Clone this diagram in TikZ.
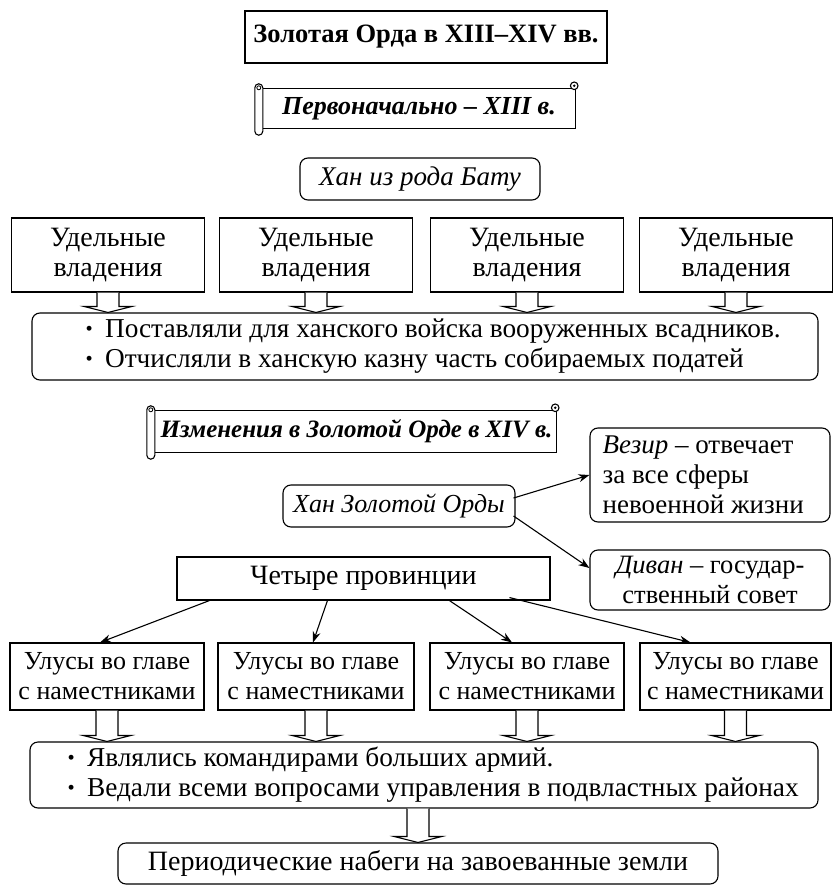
\documentclass[tikz,border=0pt]{standalone}
\usepackage{fontspec}
\setmainfont{Liberation Serif}
\usetikzlibrary{arrows.meta,calc}
\newcommand\hollowarr[2]{%
  \coordinate (tmpa) at (#1);
  \coordinate (tmpb) at (#2);
  \draw[hollow] ($(tmpa)+(-11,0)$) -- ($(tmpb)+(-11,-6)$) -- ($(tmpb)+(-24,-6)$) -- (tmpb)
     -- ($(tmpb)+(24,-6)$) -- ($(tmpb)+(11,-6)$) -- ($(tmpa)+(11,0)$);
}
\newcommand\scrollshape[1]{%
  \draw[scrl] ($(#1.north west)+(8,0)$) -- (#1.north east) -- (#1.south east) -- ($(#1.south west)+(8,0)$);
  \draw[scrl, rounded corners=4pt, fill=white] ($(#1.north west)+(0,-5)$) rectangle ($(#1.south west)+(8,7)$);
  \draw[line width=0.8pt] ($(#1.north west)+(4,-1)$) circle (2pt);
  \draw[scrl, fill=white] ($(#1.north east)+(-1,-3)$) circle (3.8pt);
  \fill ($(#1.north east)+(-1,-3)$) circle (1.4pt);
}
\newcommand\blt{\raisebox{0.08em}{\scalebox{0.75}{•}}\hspace{0.45em}}
\newcommand\fs[1]{\fontsize{#1}{30}\selectfont}
\begin{document}
\begin{tikzpicture}[x=1pt,y=-1pt,
  every node/.style={font=\fs{27}, inner sep=0pt, align=center},
  sqbox/.style={draw, line width=1.1pt},
  rbox/.style={draw, line width=1.1pt, rounded corners=8pt},
  conn/.style={line width=1.1pt, -{Stealth[length=11pt,width=8pt]}},
  hollow/.style={line width=1.1pt, fill=white, line join=miter},
  scrl/.style={line width=1.1pt},
]
\useasboundingbox (0,0) rectangle (833,885);
\fill[white] (0,0) rectangle (833,885);

% title
\node[sqbox, minimum width=362, minimum height=52, font=\fs{26.5}\bfseries] (title) at (426,37) {Золотая Орда в XIII–XIV вв.};

% scroll 1
\node[minimum width=320, minimum height=39, font=\fs{26}\bfseries\itshape] (s1) at (415,108.5) {\hspace{8pt}Первоначально – XIII в.};
\scrollshape{s1}

\node[rbox, minimum width=240, minimum height=42, font=\fs{27}\itshape] (khanb) at (420,179) {Хан из рода Бату};

% udelnye
\foreach \i/\x in {1/108,2/316,3/527,4/736}{
  \node[sqbox, minimum width=193, minimum height=74, font=\fs{28}] (d\i) at (\x,255) {Удельные\\владения};
}
\node[rbox, minimum width=786, minimum height=67] (r1) at (425,346.5) {};
\node[anchor=west, align=left, font=\fs{27.3}] (r1t) at ($(r1.west)+(54,0)$) {\blt Поставляли для ханского войска вооруженных всадников.\\\blt Отчисляли в ханскую казну часть собираемых податей};
\foreach \i in {1,2,3,4}{\hollowarr{d\i.south}{d\i.south |- r1.north}}

% scroll 2
\node[minimum width=409, minimum height=41, font=\fs{25}\bfseries\itshape] (s2) at (351.5,431.5) {\hspace{10pt}Изменения в Золотой Орде в XIV в.};
\scrollshape{s2}

\node[rbox, minimum width=232, minimum height=42, font=\fs{26}\itshape] (khz) at (399,506) {Хан Золотой Орды};
\node[rbox, minimum width=240, minimum height=94] (vz) at (710,475) {};
\node[anchor=west, align=left, font=\fs{27}] (vzt) at ($(vz.west)+(13,0)$) {\textit{Везир} – отвечает\\за все сферы\\невоенной жизни};
\node[rbox, minimum width=240, minimum height=60, font=\fs{26.5}] (dv) at (710,580) {\textit{Диван} – государ-\\ственный совет};
\draw[conn] ($(khz.east)+(-2,-8)$) -- (vz.west);
\draw[conn] ($(khz.east)+(-2,10)$) -- ($(dv.west)+(0,-12)$);

\node[sqbox, minimum width=373, minimum height=43, font=\fs{28}] (prov) at (363.5,578.5) {Четыре провинции};

% ulusy
\foreach \i/\x/\w in {1/107/194,2/316/196,3/527/194,4/735.5/191}{
  \node[sqbox, minimum width=\w, minimum height=67, font=\fs{26}] (u\i) at (\x,676.5) {Улусы во главе\\с наместниками};
}
\draw[conn] ($(prov.south west)+(33,0)$) -- ($(u1.north)+(-7,0)$);
\draw[conn] ($(prov.south west)+(151,0)$) -- ($(u2.north)+(-3,0)$);
\draw[conn] ($(prov.south west)+(273,0)$) -- ($(u3.north)+(-15,0)$);
\draw[conn] ($(prov.south west)+(333,-3)$) -- ($(u4.north)+(-45,0)$);

\node[rbox, minimum width=788, minimum height=66] (r2) at (424,775) {};
\node[anchor=west, align=left, font=\fs{27.3}] (r2t) at ($(r2.west)+(38,0)$) {\blt Являлись командирами больших армий.\\\blt Ведали всеми вопросами управления в подвластных районах};
\foreach \i in {1,2,3,4}{\hollowarr{u\i.south}{u\i.south |- r2.north}}

\node[rbox, minimum width=600, minimum height=41, font=\fs{28}] (fin) at (418,863.5) {Периодические набеги на завоеванные земли};
\hollowarr{r2.south -| fin.north}{fin.north}
\end{tikzpicture}
\end{document}
